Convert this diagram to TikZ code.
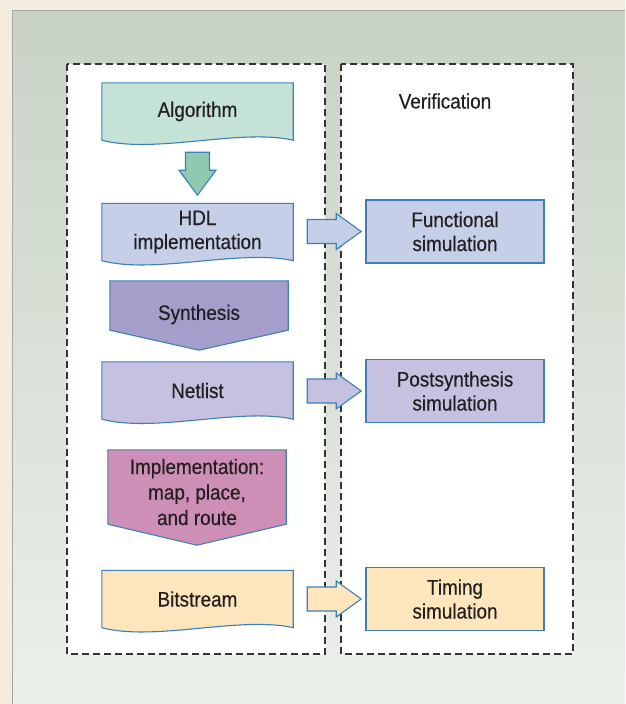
\documentclass[tikz,border=0pt]{standalone}
\usepackage{fontspec}
\setmainfont{Liberation Sans}[FakeStretch=0.9, FakeBold=0.4]
\usetikzlibrary{backgrounds,calc}

\definecolor{creambg}{HTML}{F4EDDD}
\definecolor{paneltop}{HTML}{C7D2C5}
\definecolor{panelbot}{HTML}{ECF0EB}
\definecolor{blueline}{HTML}{3F7FB6}
\definecolor{algfill}{HTML}{C5E2D6}
\definecolor{downfill}{HTML}{8FC9B0}
\definecolor{hdlfill}{HTML}{C5D0E8}
\definecolor{synfill}{HTML}{A59DCA}
\definecolor{netfill}{HTML}{C6C1E0}
\definecolor{implfill}{HTML}{CE8FB6}
\definecolor{bitfill}{HTML}{FDE5BC}
\definecolor{textc}{HTML}{231F20}

\begin{document}
\begin{tikzpicture}[x=1pt, y=-1pt,
    lbl/.style={text=textc, font=\fontsize{21}{24}\selectfont, align=center},
    docbox/.style={lbl, rectangle, minimum width=191, minimum height=57},
    stagebox/.style={lbl, rectangle, minimum width=178},
    simbox/.style={lbl, rectangle, draw=blueline, line width=1.1pt, minimum width=178, minimum height=63},
    shapeline/.style={draw=blueline, line width=1.1pt, line join=miter},
    frame/.style={draw=black!80, line width=1.2pt, dash pattern=on 7pt off 4pt, fill=white}
]
    % Background and frames
    \begin{scope}[on background layer]
        \useasboundingbox[fill=creambg] (0,0) rectangle (625,704);
        \shade[top color=paneltop, bottom color=panelbot] (12,10) rectangle (625,704);
        \draw[gray!70, line width=1pt] (12,704) -- (12,10) -- (625,10);
        \draw[frame] (67,64) rectangle (325,654);
        \draw[frame] (341,64) rectangle (573,654);
    \end{scope}

    % Design flow
    \node[docbox] (alg) at (197.5,111.5) {Algorithm};
    \node[docbox] (hdl) at (197.5,232) {HDL\\implementation};
    \node[stagebox, minimum height=69] (syn) at (199,314.5) {Synthesis};
    \node[docbox] (net) at (197.5,390.5) {Netlist};
    \node[stagebox, minimum height=95, font=\fontsize{21}{25.5}\selectfont] (impl) at (197,492) {Implementation:\\map, place,\\and route};
    \node[docbox] (bit) at (197.5,599) {Bitstream};

    % Verification
    \node[lbl] (ver) at (445,101) {Verification};
    \node[simbox, fill=hdlfill] (func) at (455,231.5) {Functional\\simulation};
    \node[simbox, fill=netfill] (post) at (455,391) {Postsynthesis\\simulation};
    \node[simbox, fill=bitfill] (tim) at (455,599) {Timing\\simulation};

    % Shapes behind the texts
    \begin{scope}[on background layer]
        \foreach \n/\c in {alg/algfill, hdl/hdlfill, net/netfill, bit/bitfill}
            \draw[shapeline, fill=\c] (\n.north west) -- (\n.north east) -- (\n.south east)
                .. controls +(-53,-12) and +(53,14) .. (\n.south west) -- cycle;
        \draw[shapeline, fill=synfill] ([yshift=-1]syn.north west) -- ([yshift=-1]syn.north east)
            -- ([yshift=19]syn.south east) -- ([yshift=-1]syn.south) -- ([yshift=19]syn.south west) -- cycle;
        \draw[shapeline, fill=implfill] ([yshift=-5.5]impl.north west) -- ([yshift=-5.5]impl.north east)
            -- ([yshift=15.5]impl.south east) -- ([yshift=-5.5]impl.south) -- ([yshift=15.5]impl.south west) -- cycle;
    \end{scope}

    % Arrows
    \draw[shapeline, fill=downfill] (alg.south) ++(-12,12) -- ++(0,18) -- ++(-6.5,0) -- ++(18.5,25)
        -- ++(18.5,-25) -- ++(-6.5,0) -- ++(0,-18) -- cycle;
    \foreach \a/\b/\c in {hdl/func/hdlfill, net/post/netfill, bit/tim/bitfill}
        \draw[shapeline, fill=\c] (\a.east |- \b.west) ++(14,-12) -- ++(29,0) -- ++(0,-6) -- ++(25,18)
            -- ++(-25,18) -- ++(0,-6) -- ++(-29,0) -- cycle;
\end{tikzpicture}
\end{document}
